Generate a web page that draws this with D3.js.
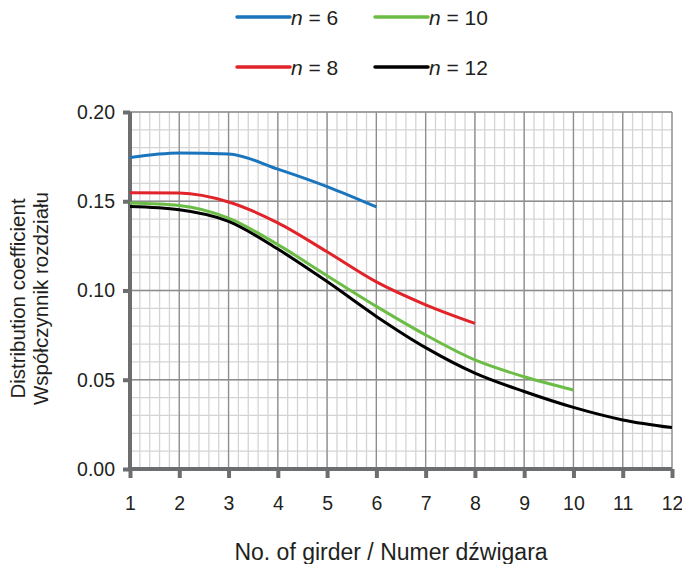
<!DOCTYPE html>
<html>
<head>
<meta charset="utf-8">
<script src="https://cdn.jsdelivr.net/npm/d3@7"></script>
<style>
  body { margin: 0; background: #fff; }
  svg text { font-family: "Liberation Sans", Arial, sans-serif; fill: #231f20; }
</style>
</head>
<body>
<div id="chart"></div>
<script>
// girder numbers
var girders = [1, 2, 3, 4, 5, 6, 7, 8, 9, 10, 11, 12];

// distribution coefficient per series
var n6 = [0.1745, 0.1770, 0.1765, 0.1680, 0.1582, 0.1468];
var n8 = [0.1548, 0.1546, 0.1496, 0.1379, 0.1217, 0.1048, 0.0920, 0.0816];
var n10 = [0.1490, 0.1476, 0.1405, 0.1257, 0.1083, 0.0911, 0.0751, 0.0611, 0.0517, 0.0443];
var n12 = [0.1470, 0.1452, 0.1387, 0.1232, 0.1050, 0.0855, 0.0680, 0.0537, 0.0434, 0.0345, 0.0275, 0.0232];

var seriesNames = ["n = 6", "n = 8", "n = 10", "n = 12"];
var yTicks = [0.00, 0.05, 0.10, 0.15, 0.20];

var svgWidth = 682;
var svgHeight = 564;
var margin = { top: 112, right: 10, bottom: 95, left: 130 };
var width = svgWidth - margin.left - margin.right;
var height = svgHeight - margin.top - margin.bottom;

var svg = d3.select("#chart")
    .append("svg")
    .attr("width", svgWidth)
    .attr("height", svgHeight);

var chartGroup = svg.append("g")
    .attr("transform", `translate(${margin.left}, ${margin.top})`);

var xScale = d3.scaleLinear().domain([1, 12]).range([0, width]);
var yScale = d3.scaleLinear().domain([0, 0.20]).range([height, 0]);

// minor grid
var xMinor = d3.range(1, 12.001, 0.2);
var yMinor = d3.range(0, 0.2001, 0.01);
chartGroup.selectAll(".vminor").data(xMinor).enter().append("line")
    .attr("x1", d => xScale(d)).attr("x2", d => xScale(d))
    .attr("y1", 0).attr("y2", height)
    .attr("stroke", "#d4d4d4").attr("stroke-width", 1.3);
chartGroup.selectAll(".hminor").data(yMinor).enter().append("line")
    .attr("y1", d => yScale(d)).attr("y2", d => yScale(d))
    .attr("x1", 0).attr("x2", width)
    .attr("stroke", "#d4d4d4").attr("stroke-width", 1.3);

// major grid
chartGroup.selectAll(".vmajor").data(girders).enter().append("line")
    .attr("x1", d => xScale(d)).attr("x2", d => xScale(d))
    .attr("y1", 0).attr("y2", height)
    .attr("stroke", "#8e8e8e").attr("stroke-width", 1.3);
chartGroup.selectAll(".hmajor").data(yTicks).enter().append("line")
    .attr("y1", d => yScale(d)).attr("y2", d => yScale(d))
    .attr("x1", 0).attr("x2", width)
    .attr("stroke", "#8e8e8e").attr("stroke-width", 1.3);

// axes
var bottomAxis = d3.axisBottom(xScale).tickValues(girders).tickSize(9).tickPadding(18)
    .tickFormat(d3.format("d"));
var leftAxis = d3.axisLeft(yScale).tickValues(yTicks).tickSize(7).tickPadding(8)
    .tickFormat(d3.format(".2f"));

var xAxis = chartGroup.append("g")
    .attr("transform", `translate(0, ${height})`)
    .call(bottomAxis);
var yAxis = chartGroup.append("g")
    .call(leftAxis);

[xAxis, yAxis].forEach(function(ax) {
    ax.select(".domain").attr("stroke", "#6d6e70").attr("stroke-width", 4);
    ax.selectAll(".tick line").attr("stroke", "#6d6e70").attr("stroke-width", 4);
    ax.selectAll(".tick text").attr("font-size", "19.5px").attr("fill", "#231f20")
        .style("font-family", "'Liberation Sans', Arial, sans-serif");
});
xAxis.select(".domain").attr("d", `M0,0H${width}`);
yAxis.select(".domain").attr("d", `M0,${height}V0`);

// series lines
var colors = ["#1a75bc", "#e1232a", "#6cbd45", "#000000"];
var allSeries = [n6, n8, n10, n12];
var line = d3.line()
    .x((d, i) => xScale(girders[i]))
    .y(d => yScale(d))
    .curve(d3.curveMonotoneX);

chartGroup.selectAll(".series").data(allSeries).enter().append("path")
    .attr("d", d => line(d))
    .attr("fill", "none")
    .attr("stroke", (d, i) => colors[i])
    .attr("stroke-width", 3);

// legend
var legendPos = [[237, 17], [237, 67], [375, 17], [375, 67]];
var legend = svg.selectAll(".legend").data(seriesNames).enter().append("g")
    .attr("transform", (d, i) => `translate(${legendPos[i][0]}, ${legendPos[i][1]})`);
legend.append("line")
    .attr("x1", 0).attr("x2", 53).attr("y1", 0).attr("y2", 0)
    .attr("stroke", (d, i) => colors[i])
    .attr("stroke-width", 3.5)
    .attr("stroke-linecap", "round");
var lt = legend.append("text")
    .attr("x", 54).attr("y", 8)
    .attr("font-size", "21px");
lt.append("tspan").attr("font-style", "italic").text("n");
lt.append("tspan").text(d => d.slice(1));

// axis titles
svg.append("text")
    .attr("x", 391)
    .attr("y", 560)
    .attr("text-anchor", "middle")
    .attr("font-size", "23px")
    .text("No. of girder / Numer dźwigara");

var yt = svg.append("text")
    .attr("transform", `translate(25, ${margin.top + height / 2 + 8}) rotate(-90)`)
    .attr("text-anchor", "middle")
    .attr("font-size", "20.5px");
yt.append("tspan").attr("x", 0).attr("y", 0).text("Distribution coefficient");
yt.append("tspan").attr("x", 0).attr("y", 23).text("Współczynnik rozdziału");
</script>
</body>
</html>
